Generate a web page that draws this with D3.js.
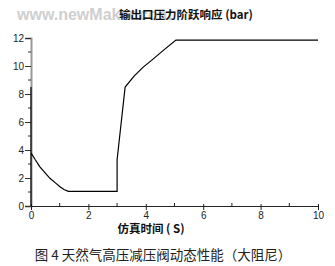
<!DOCTYPE html>
<html lang="zh">
<head>
	<meta charset="UTF-8">
	<title>输出口压力阶跃响应</title>
	<style type="text/css">
		body { margin: 0; background: #fff; }
		svg { display: block; }
	</style>
</head>
<body>
	<script type="text/javascript" src="https://cdn.jsdelivr.net/npm/d3@7/dist/d3.min.js"></script>
	<script type="text/javascript">
		// values
		var timeS = [0, 0, 0, 0.15, 0.31, 0.5, 0.66, 0.85, 1.01, 1.15, 1.3, 3.0, 3.0, 3.28, 3.6, 3.9, 4.2, 4.6, 5.05, 10];
		var pressureBar = [0, 8.5, 3.8, 3.3, 2.8, 2.35, 1.98, 1.65, 1.38, 1.18, 1.05, 1.05, 3.3, 8.5, 9.3, 9.9, 10.4, 11.1, 11.85, 11.85];
		var xTicks = [0, 2, 4, 6, 8, 10];
		var xMinor = [1, 3, 5, 7, 9];
		var yTicks = [0, 2, 4, 6, 8, 10, 12];
		var yMinor = [1, 3, 5, 7, 9, 11];

		var w = 335;
		var h = 266;
		var svg = d3.select('body')
					.append('svg')
					.attr('width', w)
					.attr('height', h);

		var x = d3.scaleLinear().domain([0, 10]).range([31, 318]);
		var y = d3.scaleLinear().domain([0, 12]).range([206, 38]);

		// watermark
		svg.append('text')
			.attr('x', 17)
			.attr('y', 20)
			.attr('font-family', 'Liberation Sans, Arial, sans-serif')
			.attr('font-weight', 'bold')
			.attr('font-size', '16px')
			.attr('fill', '#cfcfcf')
			.text('www.newMaker.com');

		// title
		svg.append('text')
			.attr('x', 186)
			.attr('y', 19)
			.attr('text-anchor', 'middle')
			.attr('font-family', 'Noto Sans CJK SC, sans-serif')
			.attr('font-weight', 'bold')
			.attr('font-size', '11.5px')
			.attr('fill', '#111')
			.text('输出口压力阶跃响应 (bar)');

		// y axis
		var yAxis = d3.axisLeft(y).tickValues(yTicks).tickSize(6).tickPadding(1);
		var gy = svg.append('g')
					.attr('transform', 'translate(' + x(0) + ',0)')
					.call(yAxis);
		gy.selectAll('.minor')
			.data(yMinor)
			.enter()
			.append('line')
			.attr('class', 'minor')
			.attr('x1', -3)
			.attr('x2', 0)
			.attr('y1', function (d) { return y(d); })
			.attr('y2', function (d) { return y(d); })
			.attr('stroke', '#333');
		gy.select('.domain').attr('stroke', '#999').attr('stroke-width', 2);
		gy.selectAll('.tick line').attr('stroke', '#333');
		gy.selectAll('text')
			.attr('font-family', 'Liberation Sans, Arial, sans-serif')
			.attr('font-size', '10px')
			.attr('fill', '#222');

		// x axis: major ticks cross the line, minor ticks point up
		var xAxis = d3.axisBottom(x).tickValues(xTicks).tickSizeInner(4).tickSizeOuter(0).tickPadding(2);
		var gx = svg.append('g')
					.attr('transform', 'translate(0,' + y(0) + ')')
					.call(xAxis);
		gx.selectAll('.tick line').attr('y1', -2).attr('stroke', '#222');
		gx.selectAll('.minor')
			.data(xMinor)
			.enter()
			.append('line')
			.attr('class', 'minor')
			.attr('x1', function (d) { return x(d); })
			.attr('x2', function (d) { return x(d); })
			.attr('y1', 0)
			.attr('y2', -3)
			.attr('stroke', '#222');
		gx.select('.domain').attr('stroke', '#222');
		gx.selectAll('text')
			.attr('font-family', 'Liberation Sans, Arial, sans-serif')
			.attr('font-size', '10px')
			.attr('fill', '#222');

		// response curve
		var line = d3.line()
					.x(function (d) { return x(d[0]); })
					.y(function (d) { return y(d[1]); });
		svg.append('path')
			.datum(d3.zip(timeS, pressureBar))
			.attr('d', line)
			.attr('fill', 'none')
			.attr('stroke', '#000')
			.attr('stroke-width', 1.2);

		// x axis title
		svg.append('text')
			.attr('x', 151)
			.attr('y', 233)
			.attr('text-anchor', 'middle')
			.attr('font-family', 'Noto Sans CJK SC, sans-serif')
			.attr('font-weight', 'bold')
			.attr('font-size', '11.5px')
			.attr('fill', '#111')
			.text('仿真时间 ( S)');

		// caption
		svg.append('text')
			.attr('x', 163)
			.attr('y', 260)
			.attr('text-anchor', 'middle')
			.attr('font-family', 'Noto Sans CJK SC, sans-serif')
			.attr('font-size', '13.5px')
			.attr('fill', '#222')
			.text('图 4 天然气高压减压阀动态性能（大阻尼）');
</script>
</body>
</html>
